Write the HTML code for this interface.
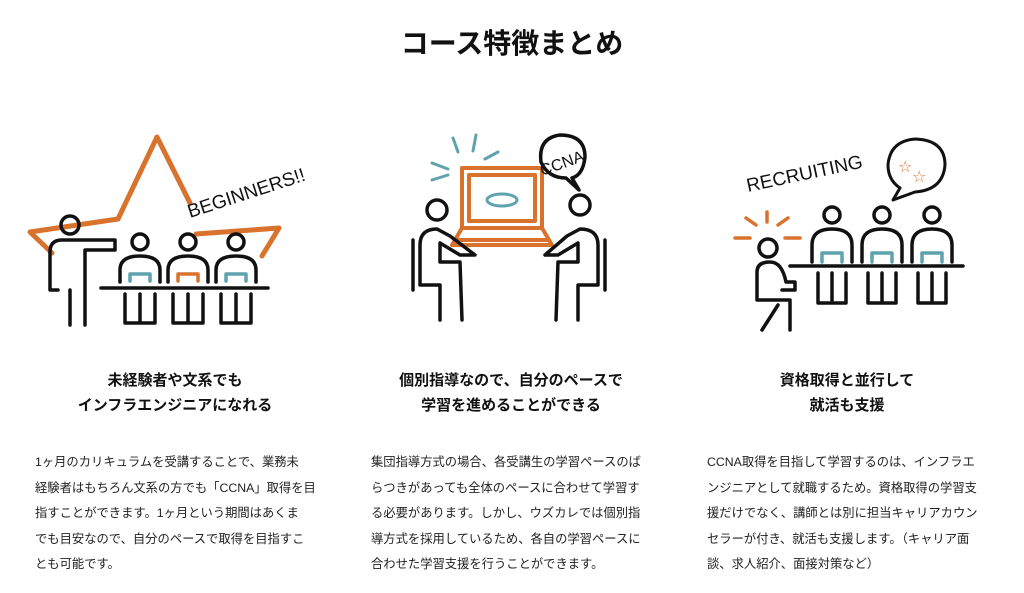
<!DOCTYPE html>
<html><head><meta charset="utf-8"><style>
body{margin:0;width:1024px;height:593px;background:#fff;font-family:"Liberation Sans","Noto Sans CJK JP",sans-serif;color:#111;position:relative;overflow:hidden}
h1{position:absolute;top:22px;left:0;width:1024px;text-align:center;margin:0;font-size:28px;font-weight:bold;line-height:44px}
.h{position:absolute;top:368px;width:300px;text-align:center;font-weight:bold;font-size:15px;line-height:25px}
.p{position:absolute;top:450px;font-size:12.3px;line-height:25.5px;white-space:nowrap;color:#222}
svg{position:absolute;top:0;left:0}
</style></head><body>
<h1>コース特徴まとめ</h1>
<svg width="1024" height="360" viewBox="0 0 1024 360" fill="none" stroke-linecap="round" stroke-linejoin="round">
<polyline points="196,234 279,228 262,256" stroke="#d9722c" stroke-width="5"/>
<polyline points="52,253 30,232 118,219 157,137 190,203" stroke="#d9722c" stroke-width="5"/>
<text x="190" y="218" font-family="Liberation Sans" font-size="19" fill="#111" transform="rotate(-18 190 218)">BEGINNERS!!</text>
<g stroke="#111" stroke-width="3.5">
<circle cx="70" cy="225" r="9"/>
<path d="M50 290 V252 Q50 240 62 240 H115 V250 H85 V325 M70 290 V325 M50 290 H58"/>
<line x1="101" y1="288" x2="268" y2="288"/>
<g id="s"><circle cx="140" cy="242" r="8"/><path d="M120 282 V270 Q120 256 140 256 Q160 256 160 270 V282 M125 294 V323 H155 V294 M140 294 V323"/></g>
<use href="#s" x="48"/><use href="#s" x="96"/>
</g>
<g stroke-width="3.5"><path d="M130 281 V274 H150 V281" stroke="#5ea3ad"/><path d="M178 281 V274 H198 V281" stroke="#d9722c"/><path d="M226 281 V274 H246 V281" stroke="#5ea3ad"/></g>
<g stroke="#d9722c" stroke-width="4"><rect x="462" y="168" width="80" height="60"/><rect x="469" y="175" width="66" height="46"/><path d="M462 228 L452 245 H552 L542 228 M456 240 H548"/></g>
<g stroke="#5ea3ad" stroke-width="3"><line x1="432" y1="163" x2="448" y2="169"/><line x1="432" y1="180" x2="448" y2="175"/><line x1="453" y1="138" x2="458" y2="152"/><line x1="476" y1="135" x2="473" y2="151"/><line x1="498" y1="152" x2="485" y2="159"/><ellipse cx="502" cy="200" rx="15" ry="6"/></g>
<g stroke="#111" stroke-width="3.5">
<path d="M541 162 Q538 138 560 135 Q585 135 585 157 Q583 175 572 178 L579 190 L566 178 Q548 178 541 162"/>
<circle cx="437" cy="210" r="10"/><path d="M413 240 V290 M420 245 Q420 229 437 229 L450 236 L475 255 H460 L440 243 V262 H460 L462 320 M420 245 V285 H440 L440 320"/>
<circle cx="580" cy="205" r="10"/><path d="M605 240 V290 M598 245 Q598 229 580 229 L567 236 L545 255 H558 L578 243 V262 H558 L556 320 M598 245 V285 H578 L578 320"/>
</g>
<text x="538" y="169" font-family="Liberation Sans" font-size="16" fill="#111" transform="rotate(-20 560 160)">CCNA</text>
<text x="748" y="192" font-family="Liberation Sans" font-size="19" fill="#111" transform="rotate(-12 748 192)">RECRUITING</text>
<path d="M900 188 Q888 180 888 165 Q890 141 915 139 Q945 140 945 165 Q943 190 915 192 L893 200 Z" stroke="#111" stroke-width="3"/>
<text x="898" y="172" font-size="16" fill="#d9722c" font-family="DejaVu Sans">☆</text><text x="912" y="182" font-size="16" fill="#d9722c" font-family="DejaVu Sans">☆</text>
<g stroke="#d9722c" stroke-width="3.5"><line x1="735" y1="238" x2="750" y2="238"/><line x1="785" y1="238" x2="800" y2="238"/><line x1="746" y1="218" x2="756" y2="225"/><line x1="767" y1="212" x2="767" y2="222"/><line x1="788" y1="218" x2="778" y2="225"/></g>
<g stroke="#111" stroke-width="3.5">
<circle cx="768" cy="248" r="9"/><path d="M757 300 V272 Q757 262 770 262 Q782 262 786 282 H795 V290 H782 M757 300 H790 V330 M762 330 L778 305 M790 330 V310"/>
<line x1="790" y1="266" x2="963" y2="266"/>
<g id="t"><circle cx="832" cy="215" r="8"/><path d="M812 262 V245 Q812 229 832 229 Q852 229 852 245 V262 M818 273 V303 H846 V273 M832 273 V303"/></g>
<use href="#t" x="50"/><use href="#t" x="100"/>
</g>
<g stroke="#5ea3ad" stroke-width="3.5"><path d="M822 262 V253 H842 V262"/><path d="M872 262 V253 H892 V262"/><path d="M922 262 V253 H942 V262"/></g>
</svg>
<div class="h" style="left:25px">未経験者や文系でも<br>インフラエンジニアになれる</div>
<div class="h" style="left:361px">個別指導なので、自分のペースで<br>学習を進めることができる</div>
<div class="h" style="left:697px">資格取得と並行して<br>就活も支援</div>
<div class="p" style="left:35px">1ヶ月のカリキュラムを受講することで、業務未<br>経験者はもちろん文系の方でも「CCNA」取得を目<br>指すことができます。1ヶ月という期間はあくま<br>でも目安なので、自分のペースで取得を目指すこ<br>とも可能です。</div>
<div class="p" style="left:371px">集団指導方式の場合、各受講生の学習ペースのば<br>らつきがあっても全体のペースに合わせて学習す<br>る必要があります。しかし、ウズカレでは個別指<br>導方式を採用しているため、各自の学習ペースに<br>合わせた学習支援を行うことができます。</div>
<div class="p" style="left:707px">CCNA取得を目指して学習するのは、インフラエ<br>ンジニアとして就職するため。資格取得の学習支<br>援だけでなく、講師とは別に担当キャリアカウン<br>セラーが付き、就活も支援します。（キャリア面<br>談、求人紹介、面接対策など）</div>
</body></html>
